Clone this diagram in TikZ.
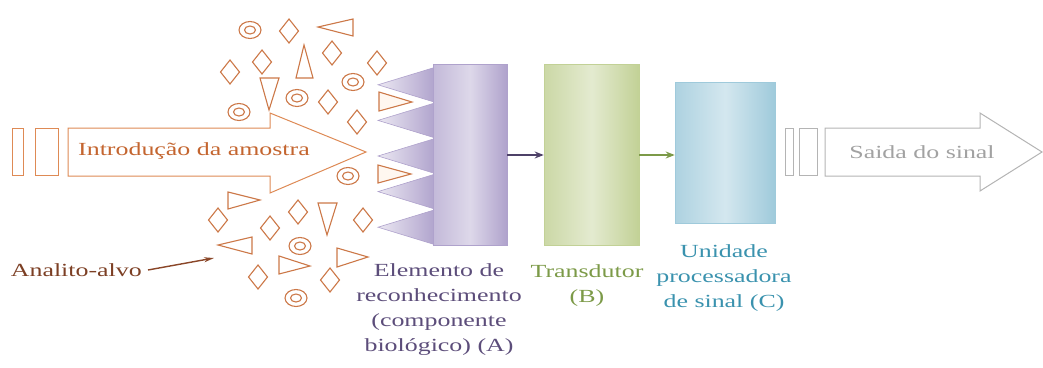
\documentclass[tikz,border=0pt]{standalone}
\usepackage{fontspec}
\setmainfont{Liberation Serif}[FakeStretch=1.4]
\usetikzlibrary{arrows.meta}

\definecolor{inorange}{HTML}{DE8A55}
\definecolor{intext}{HTML}{C4652F}
\definecolor{partc}{HTML}{CC7848}
\definecolor{outgray}{HTML}{B4B4B4}
\definecolor{outtext}{HTML}{A2A2A2}
\definecolor{purpline}{HTML}{AFA2CC}
\definecolor{purptext}{HTML}{5C4D7A}
\definecolor{greenline}{HTML}{C2D196}
\definecolor{greentext}{HTML}{7C9A48}
\definecolor{blueline}{HTML}{9FCADB}
\definecolor{bluetext}{HTML}{3A92AE}
\definecolor{brownarrow}{HTML}{8A4628}

\tikzset{
  lbl/.style={font=\fontsize{18.5}{25}\selectfont, align=center, inner sep=0pt},
  particle/.style={draw=partc, line width=1.1pt, fill=white},
  diam/.pic={\draw[particle] (0,-12) -- (9.5,0) -- (0,12) -- (-9.5,0) -- cycle;},
  ring/.pic={\draw[particle] (0,0) ellipse [x radius=11pt, y radius=8.5pt];
             \draw[partc, line width=1.1pt] (0,0) ellipse [x radius=5.5pt, y radius=4pt];},
  spike/.style={draw=purpline, line width=0.6pt, left color=purpline!25!white, right color=purpline},
  recbox/.style={draw=purpline, line width=0.6pt, minimum width=74pt, minimum height=181pt,
                 left color=purpline!75!white, right color=purpline, middle color=purpline!42!white},
  transbox/.style={draw=greenline, line width=0.6pt, minimum width=95pt, minimum height=181pt,
                 left color=greenline!85!white, right color=greenline, middle color=greenline!45!white},
  procbox/.style={draw=blueline, line width=0.6pt, minimum width=100pt, minimum height=141pt,
                 left color=blueline!85!white, right color=blueline, middle color=blueline!45!white},
  flow/.style={line width=1.6pt, -{Stealth[length=9pt,width=7pt]}}
}

\begin{document}
\begin{tikzpicture}[x=1pt, y=-1pt]
\useasboundingbox (0,0) rectangle (1043,367);

% sample inlet: two bars and a hollow arrow
\draw[inorange, line width=1pt] (12,128) rectangle (23,175);
\draw[inorange, line width=1pt] (35,128) rectangle (58,175);
\draw[inorange, line width=1pt, fill=white]
  (68,128) -- (270,128) -- (270,113) -- (366,152) -- (270,193) -- (270,176) -- (68,176) -- cycle;
\node[lbl, text=intext] (intro) at (194,151) {Introdução da amostra};

% signal outlet: two bars and a hollow arrow
\draw[outgray, line width=1pt] (785,128) rectangle (793,175);
\draw[outgray, line width=1pt] (799,128) rectangle (817,175);
\draw[outgray, line width=1pt, fill=white]
  (825,128) -- (980,128) -- (980,113) -- (1042,152) -- (980,191) -- (980,176) -- (825,176) -- cycle;
\node[lbl, text=outtext] (saida) at (922,152) {Saida do sinal};

% recognition spikes
\foreach \i in {0,...,4}{
  \pgfmathsetmacro{\top}{67+35.6*\i}
  \pgfmathsetmacro{\bot}{67+35.6*(\i+1)}
  \pgfmathsetmacro{\mid}{67+35.6*(\i+0.5)}
  \shadedraw[spike] (436,\top) -- (378,\mid) -- (436,\bot) -- cycle;
}

% the three blocks
\node[recbox] (A) at (470,154.5) {};
\node[transbox] (B) at (591.5,154.5) {};
\node[procbox] (C) at (725,152.5) {};

\draw[flow, draw=purptext!85!black] (A.east |- 0,155) -- (B.west |- 0,155);
\draw[flow, draw=greentext] (B.east |- 0,155) -- (C.west |- 0,155);

% block labels
\node[lbl, text=purptext] (Alabel) at (439,310) {Elemento de\\reconhecimento\\(componente\\biológico) (A)};
\node[lbl, text=greentext] (Blabel) at (587,286) {Transdutor\\(B)};
\node[lbl, text=bluetext] (Clabel) at (724,278) {Unidade\\processadora\\de sinal (C)};

% analyte particles, upper cluster
\pic at (250,30) {ring};
\pic at (289,31) {diam};
\draw[particle] (318,27) -- (353,19) -- (353,36) -- cycle;
\pic at (262,62) {diam};
\pic at (230,72) {diam};
\draw[particle] (304,45) -- (313,78) -- (296,78) -- cycle;
\pic at (332,53) {diam};
\pic at (377,63) {diam};
\pic at (353,82) {ring};
\draw[particle] (260,78) -- (279,78) -- (269,110) -- cycle;
\pic at (297,98) {ring};
\pic at (328,102) {diam};
\pic at (239,112) {ring};
\pic at (357,122) {diam};

% particles bound to the spikes and near them
\draw[particle, fill=orange!6!white] (379,92) -- (412,102) -- (379,111) -- cycle;
\draw[particle, fill=orange!6!white] (378,165) -- (411,174) -- (378,183) -- cycle;
\pic at (348,176) {ring};

% analyte particles, lower cluster
\draw[particle] (228,192) -- (260,200) -- (228,209) -- cycle;
\pic at (218,220) {diam};
\pic at (298,212) {diam};
\draw[particle] (318,203) -- (337,203) -- (327,235) -- cycle;
\pic at (363,220) {diam};
\pic at (270,228) {diam};
\draw[particle] (218,245) -- (252,237) -- (252,254) -- cycle;
\pic at (300,246) {ring};
\draw[particle] (337,248) -- (368,257) -- (337,267) -- cycle;
\pic at (258,277) {diam};
\draw[particle] (279,256) -- (310,266) -- (279,274) -- cycle;
\pic at (330,280) {diam};
\pic at (296,298) {ring};

% target analyte label
\node[lbl, text=brownarrow!90!black, anchor=east] (analito) at (142,270) {Analito-alvo};
\coordinate (analitotip) at (214,258);
\draw[brownarrow, line width=1.4pt, -{Stealth[length=10pt,width=5pt]}] ([xshift=6pt]analito.east) -- (analitotip);
\end{tikzpicture}
\end{document}
